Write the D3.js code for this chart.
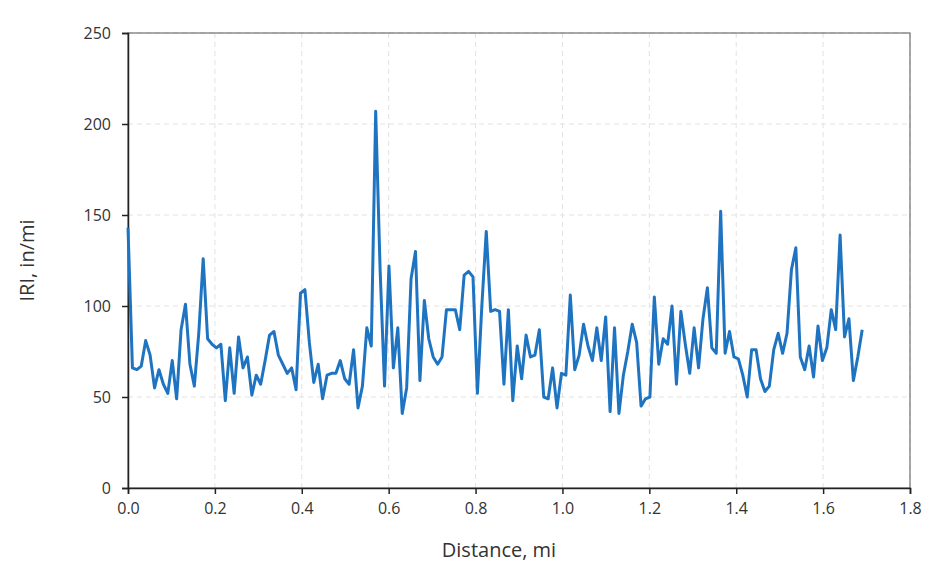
<!DOCTYPE html>
<html>
<head>
<meta charset="utf-8">
<script src="https://cdn.jsdelivr.net/npm/d3@7"></script>
<style>
  body { margin: 0; background: #fff; }
  text { font-family: "Open Sans", "Liberation Sans", sans-serif; fill: #333; }
</style>
</head>
<body>
<div id="chart"></div>
<script>
// IRI readings, one every ~0.01 mi
var iri = [143, 66, 65, 67, 81, 73, 55, 65, 57, 52, 70, 49, 87, 101, 68, 56, 85, 126, 82, 79,
  77, 79, 48, 77, 52, 83, 66, 72, 51, 62, 57, 70, 84, 86, 73, 68, 63, 66, 54, 107,
  109, 80, 58, 68, 49, 62, 63, 63, 70, 60, 57, 76, 44, 56, 88, 78, 207, 120, 56, 122,
  66, 88, 41, 55, 115, 130, 59, 103, 82, 72, 68, 72, 98, 98, 98, 87, 117, 119, 116, 52,
  100, 141, 97, 98, 97, 57, 98, 48, 78, 60, 84, 72, 73, 87, 50, 49, 66, 44, 63, 62,
  106, 65, 73, 90, 78, 70, 88, 70, 94, 42, 88, 41, 62, 75, 90, 80, 45, 49, 50, 105,
  68, 82, 79, 100, 57, 97, 79, 63, 88, 66, 93, 110, 77, 74, 152, 74, 86, 72, 71, 62,
  50, 76, 76, 60, 53, 56, 76, 85, 74, 85, 120, 132, 72, 65, 78, 61, 89, 70, 77, 98,
  87, 139, 83, 93, 59, 72, 87];
var lastDistance = 1.69;
var xTicks = [0, 0.2, 0.4, 0.6, 0.8, 1.0, 1.2, 1.4, 1.6, 1.8];
var yTicks = [0, 50, 100, 150, 200, 250];

var data = iri.map((v, i) => ({d: i * lastDistance / (iri.length - 1), v: v}));

const width = 932, height = 567;
const margin = {left: 128, right: 22, top: 33, bottom: 79};

const svg = d3.select("#chart").append("svg")
  .attr("width", width).attr("height", height);

const x = d3.scaleLinear().domain([0, 1.8]).range([margin.left, width - margin.right]);
const y = d3.scaleLinear().domain([0, 250]).range([height - margin.bottom, margin.top]);

// grid
svg.append("g").selectAll("line").data(yTicks.slice(1)).join("line")
  .attr("x1", x(0)).attr("x2", x(1.8)).attr("y1", d => y(d)).attr("y2", d => y(d))
  .attr("stroke", "#e2e2e2").attr("stroke-dasharray", "5,4");
svg.append("g").selectAll("line").data(xTicks.slice(1)).join("line")
  .attr("y1", y(0)).attr("y2", y(250)).attr("x1", d => x(d)).attr("x2", d => x(d))
  .attr("stroke", "#e2e2e2").attr("stroke-dasharray", "5,4");

// frame
svg.append("rect").attr("x", x(0)).attr("y", y(250))
  .attr("width", x(1.8) - x(0)).attr("height", y(0) - y(250))
  .attr("fill", "none").attr("stroke", "#555").attr("stroke-width", 1);

// axes
const xAxis = svg.append("g").attr("transform", `translate(0,${y(0)})`)
  .call(d3.axisBottom(x).tickValues(xTicks).tickFormat(d3.format(".1f")).tickSize(6));
const yAxis = svg.append("g").attr("transform", `translate(${x(0)},0)`)
  .call(d3.axisLeft(y).tickValues(yTicks).tickSize(6));
[xAxis, yAxis].forEach(a => {
  a.select(".domain").attr("stroke", "#222").attr("stroke-width", 1.5);
  a.selectAll(".tick line").attr("stroke", "#222").attr("stroke-width", 1.5);
  a.selectAll("text").style("font-size", "16px").attr("fill", "#333");
});
xAxis.selectAll("text").attr("dy", "1.05em");
yAxis.selectAll("text").attr("dx", "-0.5em");

// line
const line = d3.line().x(d => x(d.d)).y(d => y(d.v));
svg.append("path").datum(data)
  .attr("d", line).attr("fill", "none")
  .attr("stroke", "#1f74c2").attr("stroke-width", 3).attr("stroke-linejoin", "round");

// titles
svg.append("text").attr("x", (x(0) + x(1.8)) / 2 - 20).attr("y", 557)
  .attr("text-anchor", "middle").style("font-size", "20px").text("Distance, mi");
svg.append("text").attr("transform", `translate(34,${(y(0) + y(250)) / 2}) rotate(-90)`)
  .attr("text-anchor", "middle").style("font-size", "20px").text("IRI, in/mi");
</script>
</body>
</html>
